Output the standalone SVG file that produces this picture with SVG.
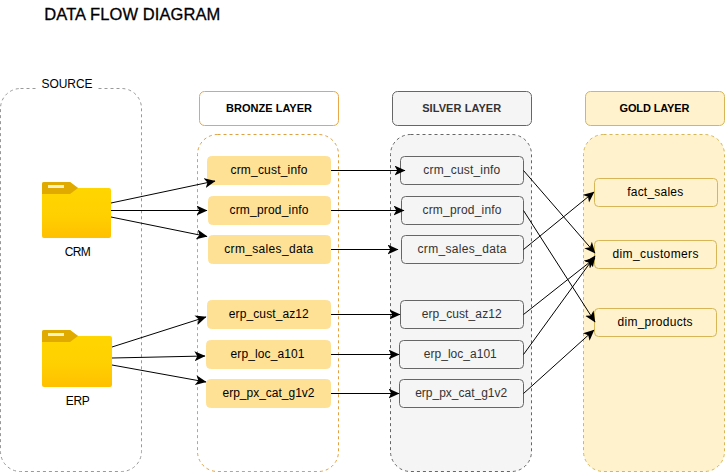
<svg xmlns="http://www.w3.org/2000/svg" width="725" height="472" viewBox="0 0 725 472">
<style>
text{font-family:"Liberation Sans",Arial,sans-serif;font-size:12px;text-anchor:middle;fill:#000}
.t{font-size:16.5px;text-anchor:start;stroke:#000;stroke-width:.3px}
.h{font-weight:bold;font-size:11px}
.cont{stroke-dasharray:3 3;stroke-width:1}
.n{stroke-width:1}
.b{fill:#ffe196;stroke:#ffe196}
.s{fill:#f5f5f5;stroke:#666}
.st{fill:#333}
.g{fill:#fff2cc;stroke:#d6b656}
.c line{stroke:#000;stroke-width:1;marker-end:url(#a)}
</style>
<defs>
<marker id="a" markerUnits="userSpaceOnUse" markerWidth="12" markerHeight="11" refX="10.500" refY="5" orient="auto" viewBox="0 0 12 11">
<path d="M0 0L11 5L0 10L2.800 5Z" fill="#000"/>
</marker>
<linearGradient id="fg" x1="0" y1="0" x2="0" y2="1"><stop offset="0" stop-color="#ffd700"/><stop offset=".6" stop-color="#ffd000"/><stop offset="1" stop-color="#ffc000"/></linearGradient>
</defs>
<rect width="725" height="472" fill="#fff"/>
<text class="t" x="44.300" y="20" textLength="176">DATA FLOW DIAGRAM</text>

<g id="source">
<rect class="cont" x="0.500" y="88.500" width="141" height="383" rx="20" fill="#fff" stroke="#999"/>
<rect x="37" y="78" width="60" height="16" fill="#fff"/>
<text x="67" y="87.500" textLength="51">SOURCE</text>
</g>
<g id="bronze-layer">
<rect x="199.500" y="91.500" width="139" height="34" rx="5" fill="#fff" stroke="#e8a848"/>
<text class="h" x="269" y="112" textLength="86">BRONZE LAYER</text>
</g>
<g id="bronze-container"><rect class="cont" x="197.500" y="134.500" width="141" height="337" rx="20" fill="#fff" stroke="#e0a040"/></g>
<g id="silver-layer">
<rect x="392.500" y="91.500" width="139" height="34" rx="5" fill="#f5f5f5" stroke="#666"/>
<text class="h st" x="461.700" y="112" textLength="79">SILVER LAYER</text>
</g>
<g id="silver-container"><rect class="cont" x="390.500" y="134.500" width="141" height="337" rx="20" fill="#f5f5f5" stroke="#666"/></g>
<g id="gold-layer">
<rect x="585.500" y="91.500" width="139" height="34" rx="5" fill="#fff2cc" stroke="#d6b656"/>
<text class="h" x="654.500" y="112" textLength="70">GOLD LAYER</text>
</g>
<g id="gold-container"><rect class="cont" x="583.500" y="134.500" width="141" height="337" rx="20" fill="#fff2cc" stroke="#d6b656"/></g>

<g id="crm-folder">
<path d="M42 184a2 2 0 0 1 2-2H70L78 188H109a2 2 0 0 1 2 2V236a2 2 0 0 1-2 2H44a2 2 0 0 1-2-2Z" fill="url(#fg)"/>
<path d="M42 184a2 2 0 0 1 2-2H70L78 188L70 194H42Z" fill="#e0aa00"/>
<rect x="48" y="185" width="16" height="3" fill="#fff2c0"/>
<text x="77.800" y="256" textLength="26">CRM</text>
</g>
<g id="erp-folder">
<path d="M42 332a2 2 0 0 1 2-2H70L78 336H110a2 2 0 0 1 2 2V385a2 2 0 0 1-2 2H44a2 2 0 0 1-2-2Z" fill="url(#fg)"/>
<path d="M42 332a2 2 0 0 1 2-2H70L78 336L70 342H42Z" fill="#e0aa00"/>
<rect x="48" y="333" width="16" height="3" fill="#fff2c0"/>
<text x="77.800" y="405" textLength="24">ERP</text>
</g>

<g id="b1"><rect class="n b" x="207.500" y="156.500" width="123" height="28" rx="4"/><text x="269" y="174" textLength="77">crm_cust_info</text></g>
<g id="b2"><rect class="n b" x="208.500" y="196.500" width="122" height="28" rx="4"/><text x="269" y="214" textLength="79">crm_prod_info</text></g>
<g id="b3"><rect class="n b" x="208.500" y="235.500" width="122" height="28" rx="4"/><text x="268.800" y="253" textLength="89">crm_sales_data</text></g>
<g id="b4"><rect class="n b" x="207.500" y="300.500" width="123" height="28" rx="4"/><text x="268.800" y="318" textLength="80">erp_cust_az12</text></g>
<g id="b5"><rect class="n b" x="206.500" y="340.500" width="124" height="28" rx="4"/><text x="267.500" y="358" textLength="74">erp_loc_a101</text></g>
<g id="b6"><rect class="n b" x="206.500" y="379.500" width="124" height="28" rx="4"/><text x="268.500" y="397" textLength="92">erp_px_cat_g1v2</text></g>

<g id="s1"><rect class="n s" x="400.500" y="156.500" width="123" height="28" rx="4"/><text class="st" x="461.800" y="174" textLength="77">crm_cust_info</text></g>
<g id="s2"><rect class="n s" x="401.500" y="196.500" width="122" height="28" rx="4"/><text class="st" x="462" y="214" textLength="79">crm_prod_info</text></g>
<g id="s3"><rect class="n s" x="401.500" y="235.500" width="122" height="28" rx="4"/><text class="st" x="462" y="253" textLength="89">crm_sales_data</text></g>
<g id="s4"><rect class="n s" x="400.500" y="300.500" width="123" height="28" rx="4"/><text class="st" x="461.700" y="318" textLength="80">erp_cust_az12</text></g>
<g id="s5"><rect class="n s" x="399.500" y="340.500" width="124" height="28" rx="4"/><text class="st" x="460.300" y="358" textLength="73">erp_loc_a101</text></g>
<g id="s6"><rect class="n s" x="399.500" y="379.500" width="124" height="28" rx="4"/><text class="st" x="461.200" y="397" textLength="92">erp_px_cat_g1v2</text></g>

<g id="g1"><rect class="n g" x="594.500" y="178.500" width="123" height="28" rx="4"/><text x="655.200" y="196" textLength="56">fact_sales</text></g>
<g id="g2"><rect class="n g" x="594.500" y="240.500" width="122" height="28" rx="4"/><text x="655.500" y="258" textLength="86">dim_customers</text></g>
<g id="g3"><rect class="n g" x="594.500" y="308.500" width="122" height="28" rx="4"/><text x="655" y="326" textLength="75">dim_products</text></g>

<g id="connectors" class="c">
<line x1="111" y1="203" x2="215" y2="181"/>
<line x1="111" y1="210.500" x2="207" y2="210.500"/>
<line x1="111" y1="217" x2="207" y2="236.500"/>
<line x1="112" y1="347" x2="206" y2="317"/>
<line x1="112" y1="358" x2="205" y2="356"/>
<line x1="112" y1="365" x2="206" y2="382"/>
<line x1="331" y1="170.500" x2="405" y2="170.500"/>
<line x1="331" y1="210.500" x2="404" y2="210.500"/>
<line x1="331" y1="249.500" x2="398" y2="249.500"/>
<line x1="331" y1="314.500" x2="400" y2="314.500"/>
<line x1="331" y1="354.500" x2="399" y2="354.500"/>
<line x1="331" y1="393.500" x2="399" y2="393.500"/>
<line x1="523.500" y1="170.500" x2="595" y2="253"/>
<line x1="523.500" y1="210.500" x2="595" y2="322"/>
<line x1="523.500" y1="249.500" x2="594" y2="192"/>
<line x1="523.500" y1="314.500" x2="595" y2="258"/>
<line x1="523.500" y1="354.500" x2="595" y2="256"/>
<line x1="523.500" y1="393.500" x2="594" y2="330"/>
</g>
</svg>
